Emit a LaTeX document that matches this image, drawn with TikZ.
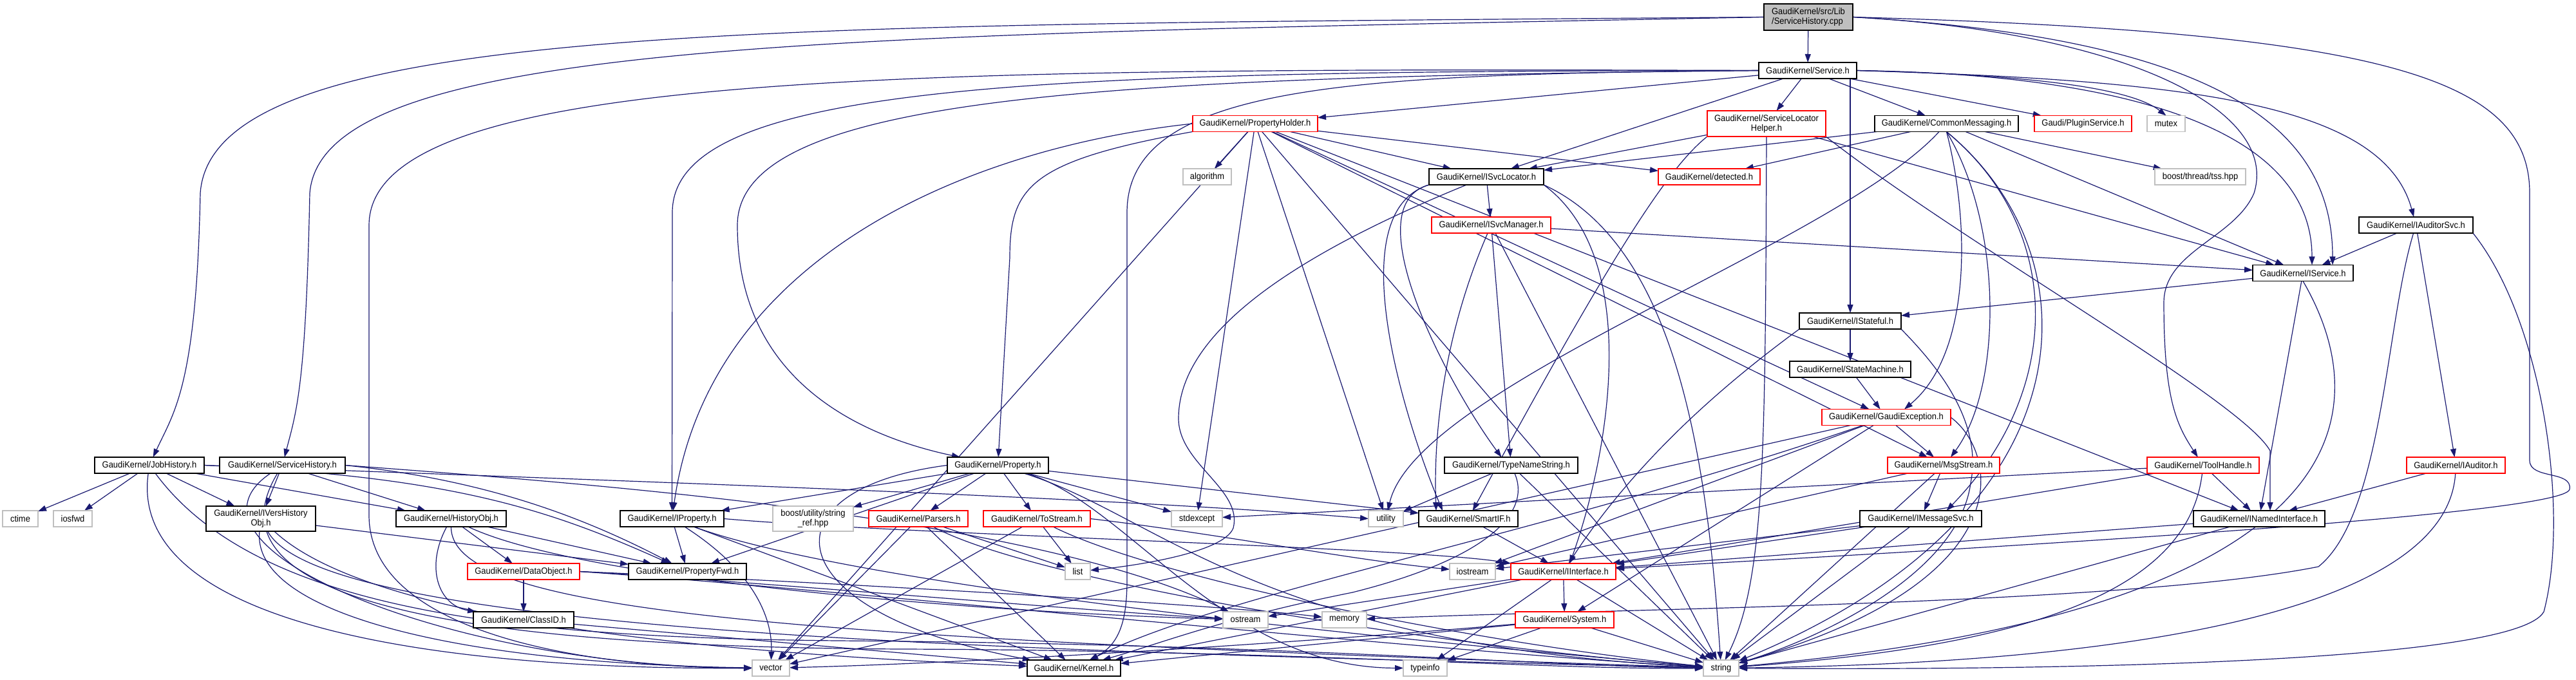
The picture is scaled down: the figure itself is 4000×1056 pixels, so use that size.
\documentclass[tikz,border=0pt]{standalone}
\usepackage{fontspec}
\setmainfont{Liberation Sans}[FakeStretch=0.925]
\usetikzlibrary{arrows.meta}
\definecolor{edgec}{HTML}{191970}
\definecolor{grayb}{HTML}{BFBFBF}
\pgfdeclarelayer{bg}
\pgfsetlayers{bg,main}
\begin{document}
\begin{tikzpicture}[x=1pt,y=-1pt,
  every node/.style={font=\fontsize{14}{15}\selectfont, inner sep=0pt, outer sep=0pt, fill=white, minimum height=25pt},
  w/.style={minimum width=#1},
  nb/.style={draw=black, line width=1.5pt},
  nr/.style={draw=red, line width=1.5pt},
  ng/.style={draw=grayb, line width=1.5pt},
  e/.style={draw=edgec, line width=1.2pt, -{Triangle[length=13pt,width=9pt]}},
]
\useasboundingbox (0,0) rectangle (4000,1056);
% nodes
\node[nb,fill=grayb,w=138,minimum height=41pt,align=left] (cpp) at (2808,26.5) {GaudiKernel/src/Lib\\/ServiceHistory.cpp};
\node[nb,w=152] (svc) at (2807,109.5) {GaudiKernel/Service.h};
\node[nr,w=194] (ph) at (1949,192) {GaudiKernel/PropertyHolder.h};
\node[nr,w=184,minimum height=40pt,align=center] (slh) at (2743,192) {GaudiKernel/ServiceLocator\\Helper.h};
\node[nb,w=223] (cm) at (3022.5,192) {GaudiKernel/CommonMessaging.h};
\node[nr,w=151] (ps) at (3234.5,192) {Gaudi/PluginService.h};
\node[ng,w=59] (mutex) at (3363.5,192) {mutex};
\node[ng,w=75] (alg) at (1874.5,274.5) {algorithm};
\node[nb,w=178] (isl) at (2308,274.5) {GaudiKernel/ISvcLocator.h};
\node[nr,w=158] (det) at (2654,274.5) {GaudiKernel/detected.h};
\node[ng,w=141] (tss) at (3416.5,274.5) {boost/thread/tss.hpp};
\node[nr,w=185] (ism) at (2315.5,349.5) {GaudiKernel/ISvcManager.h};
\node[nb,w=177] (ias) at (3751.5,349.5) {GaudiKernel/IAuditorSvc.h};
\node[nb,w=156] (isvc) at (3576,424) {GaudiKernel/IService.h};
\node[nb,w=158] (ist) at (2873,498.5) {GaudiKernel/IStateful.h};
\node[nb,w=188] (sm) at (2873,573.5) {GaudiKernel/StateMachine.h};
\node[nr,w=200] (ge) at (2929,648) {GaudiKernel/GaudiException.h};
\node[nb,w=170] (jh) at (232,722.5) {GaudiKernel/JobHistory.h};
\node[nb,w=195] (sh) at (438.5,722.5) {GaudiKernel/ServiceHistory.h};
\node[nb,w=157] (prop) at (1549.5,722.5) {GaudiKernel/Property.h};
\node[nb,w=207] (tns) at (2346.5,722.5) {GaudiKernel/TypeNameString.h};
\node[nr,w=174] (ms) at (3018,722.5) {GaudiKernel/MsgStream.h};
\node[nr,w=174] (th) at (3421,722.5) {GaudiKernel/ToolHandle.h};
\node[nr,w=153] (iaud) at (3813.5,722.5) {GaudiKernel/IAuditor.h};
\node[ng,w=55] (ctime) at (31.5,805.5) {ctime};
\node[ng,w=60] (iosfwd) at (113,805.5) {iosfwd};
\node[nb,w=170,minimum height=39pt,align=center] (ivh) at (405,805.5) {GaudiKernel/IVersHistory\\Obj.h};
\node[nb,w=171] (ho) at (700.5,805.5) {GaudiKernel/HistoryObj.h};
\node[nb,w=161] (iprop) at (1043.5,805.5) {GaudiKernel/IProperty.h};
\node[ng,w=125,minimum height=39pt,align=center] (bsr) at (1262.5,805.5) {boost/utility/string\\\_ref.hpp};
\node[nr,w=154] (pars) at (1426,805.5) {GaudiKernel/Parsers.h};
\node[nr,w=166] (tos) at (1610,805.5) {GaudiKernel/ToStream.h};
\node[ng,w=79] (stdex) at (1858.5,805.5) {stdexcept};
\node[ng,w=54] (util) at (2152,805.5) {utility};
\node[nb,w=154] (sif) at (2280,805.5) {GaudiKernel/SmartIF.h};
\node[nb,w=189] (ims) at (2982.5,805.5) {GaudiKernel/IMessageSvc.h};
\node[nb,w=204] (ini) at (3508,805.5) {GaudiKernel/INamedInterface.h};
\node[nr,w=174] (dobj) at (813,887.5) {GaudiKernel/DataObject.h};
\node[nb,w=183] (pfwd) at (1067.5,887.5) {GaudiKernel/PropertyFwd.h};
\node[ng,w=39] (lst) at (1673.5,887.5) {list};
\node[ng,w=71] (iost) at (2286.5,887.5) {iostream};
\node[nr,w=163] (iif) at (2427.5,887.5) {GaudiKernel/IInterface.h};
\node[nb,w=156] (cid) at (813,962.5) {GaudiKernel/ClassID.h};
\node[ng,w=70] (ostr) at (1934,962.5) {ostream};
\node[ng,w=69] (mem) at (2087.5,962.5) {memory};
\node[nr,w=153] (sys) at (2429.5,962.5) {GaudiKernel/System.h};
\node[ng,w=58] (vec) at (1197,1037.5) {vector};
\node[nb,w=145] (kern) at (1667.5,1037.5) {GaudiKernel/Kernel.h};
\node[ng,w=68] (tinfo) at (2213,1037.5) {typeinfo};
\node[ng,w=55] (str) at (2672.5,1037.5) {string};
% edges
\begin{pgfonlayer}{bg}
% cpp
\draw[e] (cpp) -- (svc);
\draw[e] (cpp.west) .. controls (1200,40) and (330,30) .. (311,300) .. controls (305,600) and (270,640) .. (jh);
\draw[e] (cpp.west) .. controls (1300,55) and (500,60) .. (481,300) .. controls (475,600) and (460,640) .. (sh);
\draw[e] (cpp.east) .. controls (3450,60) and (3622,200) .. ([xshift=46pt]isvc.north);
\draw[e] (cpp.east) .. controls (3300,50) and (3540,170) .. (3500,300) .. controls (3470,370) and (3360,390) .. (3360,470) .. controls (3360,620) and (3380,660) .. (th);
\draw[e] (cpp.east) .. controls (3700,50) and (3928,120) .. (3928,300) -- (3928,715) .. controls (3928,745) and (3995,730) .. (3990,760) .. controls (3980,800) and (3100,850) .. (iif);
% svc
\draw[e] (svc) -- (ph);
\draw[e] (svc) -- (slh);
\draw[e] (svc) -- (cm);
\draw[e] (svc) -- (ps);
\draw[e] (svc.east) .. controls (3100,115) and (3300,130) .. (mutex.north);
\draw[e] (svc) -- (isl);
\draw[e] (svc.east) .. controls (3300,115) and (3590,200) .. ([xshift=14pt]isvc.north);
\draw[e] ([xshift=66pt]svc.south) -- (ist);
\draw[e] (svc.east) .. controls (3400,125) and (3700,160) .. (ias);
\draw[e] (svc.west) .. controls (1600,110) and (1044,130) .. (1044,330) -- (iprop);
\draw[e] (svc.west) .. controls (1700,120) and (1145,150) .. (1145,350) .. controls (1145,600) and (1350,680) .. (prop);
\draw[e] (svc.west) .. controls (1400,105) and (573,110) .. (573,350) -- (573,800) .. controls (573,980) and (900,1037) .. (vec);
\draw[e] (svc.west) .. controls (2100,115) and (1750,130) .. (1750,330) -- (1750,900) .. controls (1750,960) and (1740,1000) .. (kern);
% ph
\draw[e] (ph) -- (alg);
\draw[e] (ph) -- (isl);
\draw[e] (ph) -- (det);
\draw[e] (ph.south west) .. controls (1600,250) and (1568,290) .. (1568,400) -- (prop);
\draw[e] (ph.west) .. controls (1500,230) and (1100,400) .. (iprop);
\draw[e] (ph) -- (ms);
\draw[e] (ph) -- (ge);
\draw[e] (ph) -- (ini);
\draw[e] (ph) -- (stdex);
\draw[e] (ph) -- (util);
\draw[e] (ph) -- (str);
\draw[e] (ph) -- (vec);
% slh
\draw[e] (slh) -- (isl);
\draw[e] (slh) -- (isvc);
\draw[e] (slh.south east) .. controls (3050,380) and (3480,620) .. (3525,700) -- ([xshift=17pt]ini.north);
\draw[e] (slh.south west) .. controls (2590,260) and (2500,400) .. (sif);
\draw[e] (slh.south) .. controls (2741,700) and (2741,900) .. (str);
% cm
\draw[e] (cm) -- (isl);
\draw[e] (cm) -- (det);
\draw[e] (cm) -- (tss);
\draw[e] (cm.south) .. controls (3110,350) and (3110,600) .. ([xshift=11pt]ms.north);
\draw[e] (cm.south) .. controls (3060,350) and (3060,550) .. ([xshift=28pt]ge.north);
\draw[e] (cm.south) .. controls (3200,350) and (3210,600) .. ([xshift=40pt]ims.north);
\draw[e] (cm) -- (isvc);
\draw[e] (cm) .. controls (2850,380) and (2200,600) .. (util);
\draw[e] (cm.south) .. controls (3260,400) and (3250,800) .. (str);
% isl
\draw[e] (isl) -- (ism);
\draw[e] (isl.south east) .. controls (2550,400) and (2500,700) .. ([xshift=10pt]iif.north);
\draw[e] (isl.south west) .. controls (2080,330) and (2180,650) .. ([xshift=-40pt]sif.north);
\draw[e] (isl.south west) .. controls (2100,320) and (2250,600) .. ([xshift=-15pt]tns.north);
\draw[e] (isl) .. controls (2000,400) and (1830,520) .. (1830,650) .. controls (1830,720) and (1930,760) .. (1915,820) .. controls (1900,860) and (1750,880) .. (lst);
\draw[e] (isl.south east) .. controls (2600,380) and (2650,700) .. (str);
% ism
\draw[e] (ism) -- (isvc);
\draw[e] (ism) .. controls (2250,500) and (2225,650) .. ([xshift=-50pt]sif.north);
\draw[e] (ism) -- (tns);
\draw[e] (ism) -- (str);
% ias
\draw[e] (ias) -- (isvc);
\draw[e] (ias) -- (iaud);
\draw[e] (ias.south east) .. controls (3950,500) and (3990,800) .. (3950,950) .. controls (3900,1040) and (3000,1040) .. (str);
\draw[e] (ias) .. controls (3705,500) and (3700,800) .. (3600,880) .. controls (3300,940) and (2500,945) .. (mem);
% isvc
\draw[e] (isvc) -- (ist);
\draw[e] (isvc) -- (ini);
\draw[e] (isvc.south) .. controls (3700,650) and (3650,950) .. (str);
% ist
\draw[e] (ist) -- (sm);
\draw[e] (ist.south west) .. controls (2700,580) and (2550,700) .. (iif);
\draw[e] (ist.south east) .. controls (3000,560) and (3080,650) .. (3060,750) .. controls (3040,900) and (2800,1000) .. (str);
% sm, ge
\draw[e] (sm) -- (ge);
\draw[e] (ge) -- (ms);
\draw[e] (ge) -- (sys);
\draw[e] (ge) .. controls (2400,830) and (1900,920) .. (kern);
\draw[e] (ge) -- (iost);
\draw[e] (ge) -- (vec);
\draw[e] (ge.east) .. controls (3100,700) and (3150,900) .. (str);
% jh
\draw[e] (jh) -- (ctime);
\draw[e] (jh) -- (iosfwd);
\draw[e] (jh) -- (ivh);
\draw[e] (jh) -- (ho);
\draw[e] (jh.east) .. controls (900,745) and (1700,770) .. (util.west);
\draw[e] (jh.east) .. controls (700,740) and (850,790) .. (pfwd);
\draw[e] (jh) .. controls (200,950) and (600,1040) .. (vec);
\draw[e] (jh) .. controls (400,950) and (800,990) .. (1300,995) .. controls (2000,1000) and (2400,1035) .. (str);
% sh
\draw[e] (sh) -- (ivh);
\draw[e] (sh) -- (ho);
\draw[e] (sh.east) .. controls (750,745) and (900,800) .. (pfwd);
\draw[e] (sh) .. controls (250,850) and (700,1035) .. (vec);
\draw[e] (sh) .. controls (300,950) and (800,1005) .. (1400,1008) .. controls (2000,1010) and (2400,1040) .. (str);
\draw[e] (sh.east) .. controls (900,750) and (1600,800) .. (ostr);
% ivh
\draw[e] (ivh) -- (pfwd);
\draw[e] (ivh) .. controls (390,950) and (700,1030) .. (vec);
\draw[e] (ivh) .. controls (500,980) and (1500,1010) .. (str);
\draw[e] (ivh) .. controls (560,950) and (1000,1010) .. (kern);
% ho
\draw[e] (ho) -- (dobj);
\draw[e] (ho) .. controls (660,880) and (680,940) .. (cid);
\draw[e] (ho) -- (pfwd);
\draw[e] (ho) .. controls (700,950) and (1200,990) .. (str);
\draw[e] (ho) .. controls (900,900) and (1500,950) .. (ostr);
% dobj, cid
\draw[e] (dobj) -- (cid);
\draw[e] (dobj.east) .. controls (1200,905) and (1700,950) .. (ostr);
\draw[e] (dobj.east) .. controls (1300,905) and (1900,940) .. (mem);
\draw[e] (dobj.east) .. controls (1300,915) and (2200,1010) .. (str);
\draw[e] (cid) -- (kern);
% prop
\draw[e] (prop) -- (iprop);
\draw[e] (prop) -- (bsr);
\draw[e] (prop) -- (pars);
\draw[e] (prop) -- (tos);
\draw[e] (prop) -- (stdex);
\draw[e] (prop) -- (pfwd);
\draw[e] (prop) -- (sif);
\draw[e] (prop.west) .. controls (1180,760) and (1200,950) .. (kern);
\draw[e] (prop) .. controls (1800,800) and (1950,1000) .. (str);
\draw[e] (prop) .. controls (1750,780) and (1900,1037) .. (tinfo);
% iprop
\draw[e] (iprop) -- (pfwd);
\draw[e] (iprop) .. controls (1160,880) and (1200,950) .. (vec);
\draw[e] (iprop) .. controls (1300,900) and (2000,980) .. (str);
\draw[e] (iprop.east) .. controls (1400,830) and (2200,850) .. (iif.north west);
\draw[e] (iprop) -- (kern);
% pars, tos
\draw[e] (pars) -- (vec);
\draw[e] (pars) -- (lst);
\draw[e] (pars) .. controls (1600,900) and (2200,1000) .. (str);
\draw[e] (pars) -- (kern);
\draw[e] (tos) -- (vec);
\draw[e] (tos) -- (lst);
\draw[e] (tos) .. controls (1800,900) and (2300,1000) .. (str);
\draw[e] (tos.east) .. controls (1900,830) and (2100,870) .. (iost);
% sif, tns
\draw[e] (sif) -- (iif);
\draw[e] (tns) -- (util);
\draw[e] (tns) .. controls (2380,800) and (2300,870) .. (2100,920) .. controls (1900,960) and (1800,1000) .. (kern);
\draw[e] (tns) -- (str);
% ms, ims, ini
\draw[e] (ms) -- (ims);
\draw[e] (ms) -- (iost);
\draw[e] (ms) -- (str);
\draw[e] (ims) -- (iost);
\draw[e] (ims) -- (iif);
\draw[e] (ims) -- (str);
\draw[e] (ini) -- (iif);
\draw[e] (ini) -- (str);
% th, iaud
\draw[e] (th) -- (ini);
\draw[e] (th) -- (stdex);
\draw[e] (th) -- (iif);
\draw[e] (th) .. controls (3400,900) and (3200,1000) .. (str);
\draw[e] (iaud) -- (ini);
\draw[e] (iaud) .. controls (3800,950) and (3300,1030) .. (str);
% iif, sys
\draw[e] (iif) -- (sys);
\draw[e] (iif) -- (tinfo);
\draw[e] (iif) -- (ostr);
\draw[e] (iif) -- (kern);
\draw[e] (iif) -- (str);
\draw[e] (sys) -- (kern);
\draw[e] (sys) .. controls (2000,1000) and (1500,1030) .. (vec);
\draw[e] (sys) -- (tinfo);
\draw[e] (sys) -- (str);
\end{pgfonlayer}
\end{tikzpicture}
\end{document}
